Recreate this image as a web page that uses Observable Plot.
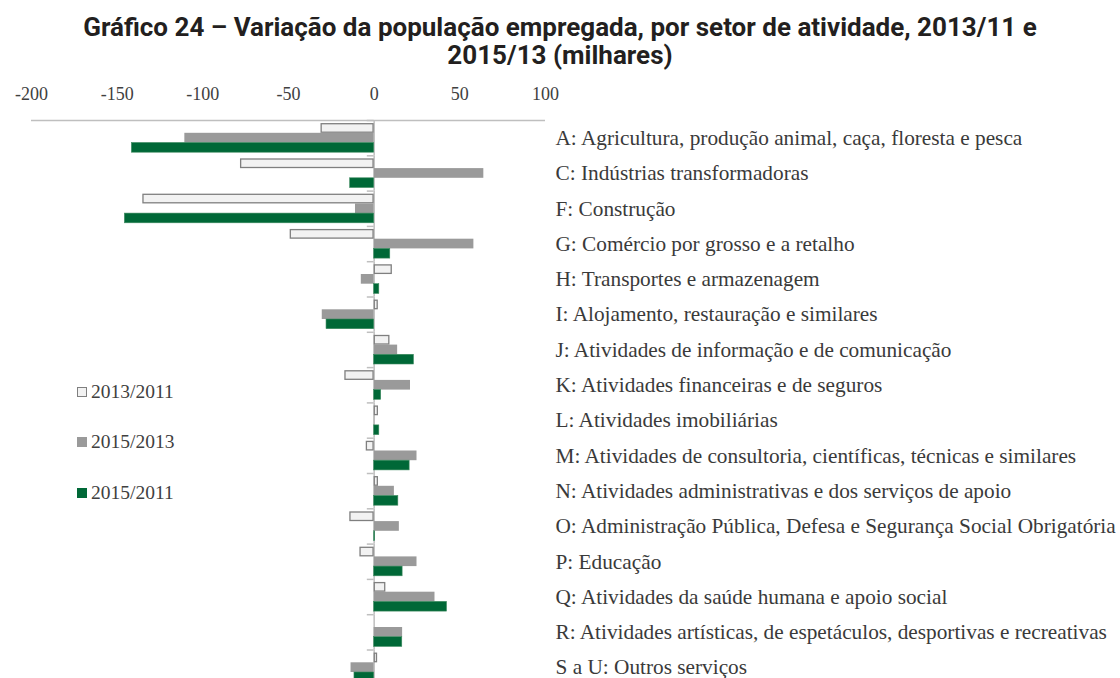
<!DOCTYPE html>
<html>
<head>
<meta charset="utf-8">
<script src="https://cdn.jsdelivr.net/npm/d3@7"></script>
<script src="https://cdn.jsdelivr.net/npm/@observablehq/plot@0.6"></script>
<style>
  html, body { margin: 0; padding: 0; background: #fff; overflow: hidden; width: 1120px; height: 678px; }
  #title { position: absolute; left: 0; top: 13px; width: 1120px; text-align: center;
           font-family: Roboto, "Open Sans", sans-serif; font-weight: 700; font-size: 26px;
           line-height: 28.3px; color: #231f20; }
  #chart { position: absolute; left: 0; top: 80px; }
  #chart svg { display: block; }
  #chart g[aria-label^="fy-axis"] text { font-size: 21.3px; fill: #3a3a3a; }
  #legend { position: absolute; left: 77px; top: 0; font-family: "Liberation Serif", serif;
            font-size: 19.5px; color: #404040; }
  .item { position: absolute; left: 0; white-space: nowrap; display: flex; align-items: center; height: 20px; }
  .sw { width: 10px; height: 10px; box-sizing: border-box; margin-right: 4px; }
</style>
</head>
<body>
<div id="title">Gráfico 24 – Variação da população empregada, por setor de atividade, 2013/11 e<br>2015/13 (milhares)</div>
<div id="chart"></div>
<div id="legend"></div>
<script>
const categories = [
  "A: Agricultura, produção animal, caça, floresta e pesca",
  "C: Indústrias transformadoras",
  "F: Construção",
  "G: Comércio por grosso e a retalho",
  "H: Transportes e armazenagem",
  "I: Alojamento, restauração e similares",
  "J: Atividades de informação e de comunicação",
  "K: Atividades financeiras e de seguros",
  "L: Atividades imobiliárias",
  "M: Atividades de consultoria, científicas, técnicas e similares",
  "N: Atividades administrativas e dos serviços de apoio",
  "O: Administração Pública, Defesa e Segurança Social Obrigatória",
  "P: Educação",
  "Q: Atividades da saúde humana e apoio social",
  "R: Atividades artísticas, de espetáculos, desportivas e recreativas",
  "S a U: Outros serviços"
];
const series = ["2013/2011", "2015/2013", "2015/2011"];
const v2013_2011 = [-31, -78, -135, -49, 10.6, 2.4, 9.2, -17.1, 2.5, -4.6, 2.5, -14.2, -8.3, 6.8, -0.5, 2];
const v2015_2013 = [-110.5, 64, -10.9, 58.2, -7.5, -30.3, 13.7, 21.2, 0.3, 25, 11.8, 14.7, 25, 35.5, 16.6, -13.5];
const v2015_2011 = [-141.4, -14, -145.5, 9.4, 3, -27.8, 23.2, 4.1, 3, 20.7, 14.1, 0.6, 16.6, 42.5, 16.4, -11.5];
const xTicks = [-200, -150, -100, -50, 0, 50, 100];
const colors = ["#f2f2f2", "#9a9a9a", "#006837"];

const rows = (vals, s) => categories.map((c, i) => ({cat: c, s, v: vals[i]}));
const d1 = rows(v2013_2011, series[0]);
const d2 = rows(v2015_2013, series[1]);
const d3r = rows(v2015_2011, series[2]);

const rowH = 35.3;
const padOuter = 0.32;
const marginTop = 40;
const step = rowH / (series.length + 2 * padOuter);
const topOffset = -(step / 2 + step * padOuter);

const plot = Plot.plot({
  width: 1120,
  height: marginTop + rowH * categories.length,
  marginTop,
  marginBottom: 0,
  marginLeft: 31,
  marginRight: 575,
  style: {fontFamily: "'Liberation Serif', serif", fontSize: "18px", color: "#404040", background: "white", overflow: "visible"},
  x: {domain: [-200, 100], axis: "top", ticks: xTicks, tickFormat: d => String(d), tickSize: 0, tickPadding: 20.5, label: null},
  y: {domain: series, axis: null, paddingInner: 0, paddingOuter: padOuter, round: false},
  fy: {domain: categories, axis: "right", padding: 0, round: false, tickSize: 0, tickPadding: 10, label: null},
  marks: [
    Plot.ruleY([categories[0]], {fy: d => d, y: () => series[0], x1: -200, x2: 100, dy: topOffset, stroke: "#bfbfbf", strokeWidth: 1.5}),
    Plot.ruleY(categories, {fy: d => d, y: () => series[0], x1: -4, x2: 0, dy: topOffset, stroke: "#bfbfbf", strokeWidth: 1.5}),
    Plot.ruleX(categories, {fy: d => d, x: () => 0, stroke: "#bfbfbf", strokeWidth: 1.5}),
    Plot.barX(d1, {fy: "cat", y: "s", x: "v", fill: colors[0], stroke: "#7f7f7f", strokeWidth: 1.3, inset: 0.6}),
    Plot.barX(d2, {fy: "cat", y: "s", x: "v", fill: colors[1]}),
    Plot.barX(d3r, {fy: "cat", y: "s", x: "v", fill: colors[2], stroke: "#3d8a5f", strokeWidth: 0.6})
  ]
});
document.getElementById("chart").appendChild(plot);

const legendTops = [382, 432, 483];
const legend = document.getElementById("legend");
series.forEach((s, i) => {
  const it = document.createElement("div");
  it.className = "item";
  it.style.top = legendTops[i] + "px";
  const sw = document.createElement("span");
  sw.className = "sw";
  sw.style.background = colors[i];
  if (i === 0) sw.style.border = "1.3px solid #7f7f7f";
  it.appendChild(sw);
  it.appendChild(document.createTextNode(s));
  legend.appendChild(it);
});
</script>
</body>
</html>
